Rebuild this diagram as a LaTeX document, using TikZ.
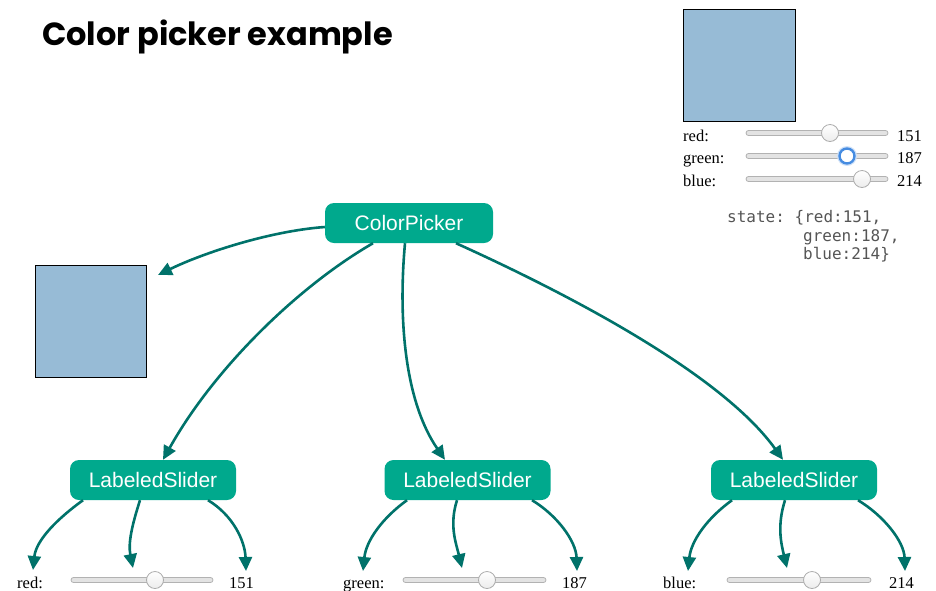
\documentclass[tikz,border=0pt]{standalone}
\usepackage{fontspec}
\setmainfont{Liberation Serif}
\setsansfont{Liberation Sans}
\setmonofont{DejaVu Sans Mono}
\newfontfamily\titlefont{Poppins}
\usetikzlibrary{arrows.meta}

\definecolor{compfill}{RGB}{0,169,141}
\definecolor{linkcol}{RGB}{0,114,106}
\definecolor{swatchcol}{RGB}{151,187,214}
\definecolor{codegray}{RGB}{85,85,85}
\definecolor{focusblue}{RGB}{70,140,225}

\begin{document}
\begin{tikzpicture}[x=1pt,y=-1pt,
  comp/.style={fill=compfill, rounded corners=9pt, minimum width=166pt, minimum height=40pt,
    text=white, font=\sffamily\fontsize{21}{24}\selectfont, inner sep=0pt},
  link/.style={draw=linkcol, line width=2.6pt, -{Triangle[length=14pt,width=13pt]}},
  swatch/.style={fill=swatchcol, draw=black, line width=1pt, minimum width=111pt,
    minimum height=112pt, inner sep=0pt},
  track/.style={fill=gray!22, draw=gray!60, line width=0.8pt, rounded corners=2.5pt,
    minimum height=5pt, inner sep=0pt},
  knob/.style={circle, minimum size=17pt, inner sep=0pt, draw=gray!65, line width=0.8pt,
    top color=white, bottom color=gray!15},
  focusknob/.style={circle, minimum size=15pt, inner sep=0pt, draw=focusblue, line width=2.4pt,
    fill=white},
  lbl/.style={font=\fontsize{16.5}{18}\selectfont, inner sep=0pt, anchor=base west},
  code/.style={font=\ttfamily\fontsize{16}{18}\selectfont, text=codegray, inner sep=0pt,
    anchor=base west}]

\useasboundingbox (0,0) rectangle (936,590);

% title
\node[anchor=base west, inner sep=0pt, font=\titlefont\bfseries\fontsize{32}{36}\selectfont]
  (title) at (42,45) {Color picker example};

% rendered color picker (top right)
\node[swatch, minimum width=112pt] (bigsq) at (739,65) {};
\node[lbl] (tlr) at (683,141) {red:};
\node[lbl] (tlg) at (683,163) {green:};
\node[lbl] (tlb) at (683,186) {blue:};
\node[track, minimum width=142pt] (ttr) at (817,133) {};
\node[track, minimum width=142pt] (ttg) at (817,156) {};
\node[track, minimum width=142pt] (ttb) at (817,179) {};
\node[knob] (tkr) at (830,133) {};
\node[circle, minimum size=20pt, fill=focusblue!25] (tglow) at (847,156) {};
\node[focusknob] (tkg) at (847,156) {};
\node[knob] (tkb) at (862,179) {};
\node[lbl] (tvr) at (897,141) {151};
\node[lbl] (tvg) at (897,163) {187};
\node[lbl] (tvb) at (897,186) {214};

% component state
\node[code] (st1) at (727,222) {state: \{red:151,};
\node[code] (st2) at (803,241) {green:187,};
\node[code] (st3) at (803,259) {blue:214\}};

% component tree
\node[comp, minimum width=168pt] (cp) at (409,223) {ColorPicker};
\node[swatch] (sq) at (90.5,321) {};
\node[comp] (ls1) at (153,480) {LabeledSlider};
\node[comp] (ls2) at (467.5,480) {LabeledSlider};
\node[comp] (ls3) at (794,480) {LabeledSlider};

% leaves: label, slider, value
\node[lbl] (l1) at (17,588) {red:};
\node[track, minimum width=142pt] (s1) at (142,580) {};
\node[knob] (k1) at (155,580) {};
\node[lbl] (v1) at (229,588) {151};

\node[lbl] (l2) at (343,588) {green:};
\node[track, minimum width=143pt] (s2) at (474.5,580) {};
\node[knob] (k2) at (487,580) {};
\node[lbl] (v2) at (562,588) {187};

\node[lbl] (l3) at (663,588) {blue:};
\node[track, minimum width=144pt] (s3) at (799,580) {};
\node[knob] (k3) at (812,580) {};
\node[lbl] (v3) at (889,588) {214};

% arrow tips
\coordinate (sq-in) at (158,275);
\coordinate (l1-in) at (33,570);
\coordinate (s1-in) at (133,568);
\coordinate (v1-in) at (246,571);
\coordinate (l2-in) at (363,571);
\coordinate (s2-in) at (462,568);
\coordinate (v2-in) at (577,571);
\coordinate (l3-in) at (688,571);
\coordinate (s3-in) at (787,568);
\coordinate (v3-in) at (905,571);

% ColorPicker children
\draw[link] ([yshift=-4pt]cp.west) .. controls +(-55,4) and +(45,-22) .. (sq-in);
\draw[link] ([xshift=-36pt]cp.south) .. controls +(-73,42) and +(52,-93) .. ([xshift=10pt]ls1.north);
\draw[link] ([xshift=-4pt]cp.south) .. controls +(-7,77) and +(-40,-58) .. ([xshift=-22.5pt]ls2.north);
\draw[link] ([xshift=47pt]cp.south) .. controls +(104,47) and +(-63,-88) .. ([xshift=-11pt]ls3.north);

% LabeledSlider children
\draw[link] ([xshift=-70pt]ls1.south) .. controls +(-25,18) and +(3,-30) .. (l1-in);
\draw[link] ([xshift=-13pt]ls1.south) .. controls +(-8,25) and +(-5,-25) .. (s1-in);
\draw[link] ([xshift=55pt]ls1.south) .. controls +(25,15) and +(-1,-30) .. (v1-in);

\draw[link] ([xshift=-60.5pt]ls2.south) .. controls +(-25,18) and +(3,-30) .. (l2-in);
\draw[link] ([xshift=-10.5pt]ls2.south) .. controls +(-8,25) and +(-6,-25) .. (s2-in);
\draw[link] ([xshift=64.5pt]ls2.south) .. controls +(25,15) and +(-1,-30) .. (v2-in);

\draw[link] ([xshift=-62pt]ls3.south) .. controls +(-25,18) and +(3,-30) .. (l3-in);
\draw[link] ([xshift=-9pt]ls3.south) .. controls +(-8,25) and +(-6,-25) .. (s3-in);
\draw[link] ([xshift=64pt]ls3.south) .. controls +(25,15) and +(-1,-30) .. (v3-in);
\end{tikzpicture}
\end{document}
